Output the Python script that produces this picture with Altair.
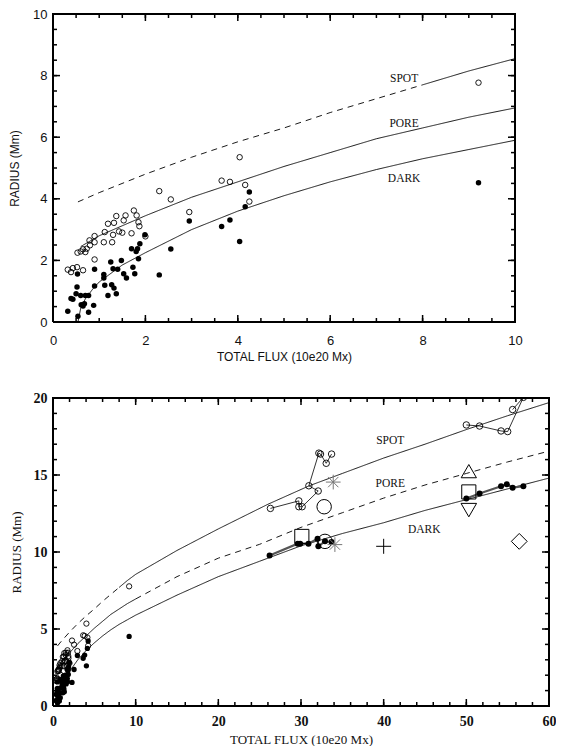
import altair as alt
import pandas as pd

# ---------------- data ----------------
# low-flux sample (shown in both panels); flux in 10e20 Mx, radius in Mm
open_flux = [0.32, 0.39, 0.43, 0.52, 0.65, 0.53, 0.60, 0.65, 0.70, 0.73, 0.80, 0.79,
             0.90, 0.90, 0.90, 1.10, 1.12, 1.19, 1.28, 1.30, 1.32, 1.37, 1.43, 1.50,
             1.53, 1.57, 1.70, 1.75, 1.81, 1.85, 1.87, 2.00, 2.30, 2.55, 2.95, 3.65,
             3.83, 4.04, 4.16, 4.25, 9.21]
open_radius = [1.70, 1.62, 1.75, 1.78, 1.68, 2.25, 2.29, 2.36, 2.27, 2.38, 2.49, 2.65,
               2.59, 2.79, 2.03, 2.59, 2.92, 3.19, 2.59, 2.83, 3.22, 3.44, 2.94, 2.90,
               3.30, 3.46, 2.88, 3.62, 3.46, 3.24, 3.11, 2.78, 4.25, 3.98, 3.57, 4.59,
               4.55, 5.35, 4.45, 3.91, 7.77]
dark_flux = [0.32, 0.39, 0.43, 0.54, 0.50, 0.52, 0.53, 0.60, 0.61, 0.65, 0.68, 0.70,
             0.77, 0.77, 0.88, 0.90, 0.90, 1.10, 1.10, 1.12, 1.19, 1.25, 1.27, 1.30,
             1.32, 1.37, 1.40, 1.48, 1.53, 1.59, 1.70, 1.73, 1.77, 1.80, 1.83, 1.85,
             1.88, 1.99, 2.30, 2.55, 2.95, 3.65, 3.83, 4.04, 4.16, 4.25, 9.21]
dark_radius = [0.35, 0.76, 0.74, 0.19, 0.92, 1.14, 1.56, 0.86, 0.56, 0.52, 0.59, 0.86,
               0.86, 0.32, 0.54, 1.71, 1.17, 1.54, 1.43, 1.19, 0.86, 1.95, 1.21, 1.73,
               1.10, 0.92, 1.71, 2.00, 1.57, 1.43, 2.38, 1.78, 1.57, 2.29, 2.38, 2.05,
               2.54, 2.83, 1.53, 2.37, 3.28, 3.10, 3.31, 2.61, 3.74, 4.22, 4.52]

# high-flux groups (bottom panel), joined in order
spotA_flux = [26.3, 29.74, 29.74, 30.14, 32.08, 30.95, 32.16, 32.36, 33.05, 33.7]
spotA_radius = [12.83, 13.32, 12.94, 12.94, 13.96, 14.3, 16.42, 16.36, 15.76, 16.36]
spotB_flux = [50.0, 51.6, 54.2, 55.0, 56.9, 55.6]
spotB_radius = [18.25, 18.18, 17.86, 17.82, 20.04, 19.25]
darkC_flux = [26.2, 29.6, 29.9, 30.9, 32.0, 32.1, 32.9, 33.7]
darkC_radius = [9.77, 10.54, 10.54, 10.54, 10.86, 10.37, 10.69, 10.65]
darkD_flux = [50.0, 51.6, 54.2, 54.9, 55.6, 56.9]
darkD_radius = [13.48, 13.8, 14.27, 14.4, 14.18, 14.27]

# other published objects (bottom panel)
sym_flux = [30.1, 32.8, 32.9, 33.9, 34.1, 40.0, 50.3, 50.3, 50.3, 56.4]
sym_radius = [11.01, 12.94, 10.69, 14.54, 10.48, 10.37, 15.25, 13.9, 12.72, 10.69]
sym_kind = ["square", "circle", "circle", "asterisk", "asterisk", "plus",
            "tri-up", "square", "tri-down", "diamond"]

# model curves
spot_curve_flux = [0.54, 1, 2, 3, 4, 5, 6, 7, 8, 9, 10, 15, 20, 26, 31, 35, 40, 45, 50, 55, 60]
spot_curve_radius = [3.9, 4.2, 4.8, 5.35, 5.85, 6.3, 6.8, 7.25, 7.7, 8.15, 8.55, 10.1,
                     11.5, 13.1, 14.3, 15.1, 16.1, 17.0, 17.95, 18.85, 19.7]
pore_curve_flux = [0.6, 1, 2, 3, 4, 5, 6, 7, 8, 9, 10, 15, 20, 25, 30, 35, 40, 45, 50, 55, 60]
pore_curve_radius = [2.45, 2.8, 3.45, 4.05, 4.55, 5.05, 5.5, 5.95, 6.3, 6.65, 6.95, 8.4,
                     9.6, 10.5, 11.6, 12.55, 13.5, 14.35, 15.1, 15.85, 16.55]
dark_curve_flux = [0.54, 0.6, 0.7, 0.85, 1, 1.5, 2, 3, 4, 5, 6, 7, 8, 9, 10, 15, 20, 25,
                   30, 35, 40, 45, 50, 55, 60]
dark_curve_radius = [0.0, 0.45, 0.75, 1.05, 1.3, 1.85, 2.25, 3.0, 3.6, 4.1, 4.55, 4.95,
                     5.3, 5.6, 5.9, 7.2, 8.4, 9.4, 10.4, 11.2, 11.9, 12.7, 13.4, 14.1, 14.8]
spot_dash_until = 8.0     # SPOT curve dashed below this flux
pore_dash_from = 10.0     # PORE curve dashed above this flux

curve_names = ["SPOT", "PORE", "DARK"]
top_label_flux = [7.6, 7.6, 7.6]
top_label_radius = [7.9, 6.42, 4.65]
bot_label_flux = [40.8, 40.8, 44.9]
bot_label_radius = [17.2, 14.4, 11.45]

# ---------------- tables ----------------
open_df = pd.DataFrame({"flux": open_flux, "radius": open_radius})
dark_df = pd.DataFrame({"flux": dark_flux, "radius": dark_radius})


def curve_rows():
    rows = []
    for f, r in zip(spot_curve_flux, spot_curve_radius):
        if f <= spot_dash_until:
            rows.append(("SPOT-a", "dashed", f, r))
        if f >= spot_dash_until:
            rows.append(("SPOT-b", "solid", f, r))
    for f, r in zip(pore_curve_flux, pore_curve_radius):
        if f <= pore_dash_from:
            rows.append(("PORE-a", "solid", f, r))
        if f >= pore_dash_from:
            rows.append(("PORE-b", "dashed", f, r))
    for f, r in zip(dark_curve_flux, dark_curve_radius):
        rows.append(("DARK", "solid", f, r))
    return pd.DataFrame(rows, columns=["seg", "style", "flux", "radius"])


curve_df = curve_rows()

groups_open = pd.concat([
    pd.DataFrame({"flux": spotA_flux, "radius": spotA_radius, "grp": "A", "ord": range(len(spotA_flux))}),
    pd.DataFrame({"flux": spotB_flux, "radius": spotB_radius, "grp": "B", "ord": range(len(spotB_flux))}),
])
groups_dark = pd.concat([
    pd.DataFrame({"flux": darkC_flux, "radius": darkC_radius, "grp": "C", "ord": range(len(darkC_flux))}),
    pd.DataFrame({"flux": darkD_flux, "radius": darkD_radius, "grp": "D", "ord": range(len(darkD_flux))}),
])
sym_df = pd.DataFrame({"flux": sym_flux, "radius": sym_radius, "kind": sym_kind})

ASTER = "M-1,0L1,0M0,-1L0,1M-0.7,-0.7L0.7,0.7M-0.7,0.7L0.7,-0.7"
PLUS = "M-1,0L1,0M0,-1L0,1"
kind_dom = ["square", "circle", "asterisk", "plus", "tri-up", "tri-down", "diamond"]
kind_shape = ["square", "circle", ASTER, PLUS, "triangle-up", "triangle-down", "diamond"]
kind_size = [200, 250, 220, 170, 240, 240, 150]
kind_color = ["black", "black", "#777777", "black", "black", "black", "black"]

MAJ_LEN = 7   # px, inward major ticks
MIN_LEN = 4   # px, inward minor ticks


def make_panel(xdom, ydom, W, H, xmaj, xmin_, ymaj, ymin_, font, lsize, lweight,
               tsize, labels_flux, labels_radius, extra, lab_pad_y, title_pad_y,
               lab_pad_x, title_pad_x, pt_size):
    xs = alt.Scale(domain=xdom, nice=False, zero=False)
    ys = alt.Scale(domain=ydom, nice=False, zero=False)
    xaxis = alt.Axis(values=xmaj, ticks=False, domain=False, grid=False,
                     labelFont=font, labelFontSize=lsize, labelFontWeight=lweight,
                     labelColor="#111", labelPadding=lab_pad_x, labelFlush=False,
                     title="TOTAL FLUX (10e20 Mx)", titleFont=font, titleFontSize=tsize,
                     titleFontWeight="normal", titleColor="#111", titlePadding=title_pad_x)
    yaxis = alt.Axis(values=ymaj, ticks=False, domain=False, grid=False,
                     labelFont=font, labelFontSize=lsize, labelFontWeight=lweight,
                     labelColor="#111", labelPadding=lab_pad_y, labelFlush=False,
                     title="RADIUS (Mm)", titleFont=font, titleFontSize=tsize,
                     titleFontWeight="normal", titleColor="#111", titlePadding=title_pad_y)

    def X(field="flux"):
        return alt.X(f"{field}:Q", scale=xs, axis=xaxis)

    def Y(field="radius"):
        return alt.Y(f"{field}:Q", scale=ys, axis=yaxis)

    # pixel -> data-unit conversion for tick lengths
    ux = (xdom[1] - xdom[0]) / W
    uy = (ydom[1] - ydom[0]) / H

    # frame (closed polyline through the four domain corners)
    frame_rows = []
    corners = [(xdom[0], ydom[0]), (xdom[1], ydom[0]), (xdom[1], ydom[1]),
               (xdom[0], ydom[1]), (xdom[0], ydom[0])]
    for k, (cx, cy) in enumerate(corners):
        frame_rows.append(("frame", k, cx, cy))
    frame_df = pd.DataFrame(frame_rows, columns=["sid", "k", "px", "py"])

    # inward ticks on all four sides, each a two-point segment
    tick_rows = []
    n = 0
    for vals, ln in ((xmaj, MAJ_LEN), (xmin_, MIN_LEN)):
        for v in vals:
            tick_rows += [(f"t{n}", 0, v, ydom[0]), (f"t{n}", 1, v, ydom[0] + ln * uy)]
            n += 1
            tick_rows += [(f"t{n}", 0, v, ydom[1]), (f"t{n}", 1, v, ydom[1] - ln * uy)]
            n += 1
    for vals, ln in ((ymaj, MAJ_LEN), (ymin_, MIN_LEN)):
        for v in vals:
            tick_rows += [(f"t{n}", 0, xdom[0], v), (f"t{n}", 1, xdom[0] + ln * ux, v)]
            n += 1
            tick_rows += [(f"t{n}", 0, xdom[1], v), (f"t{n}", 1, xdom[1] - ln * ux, v)]
            n += 1
    tick_df = pd.DataFrame(tick_rows, columns=["sid", "k", "px", "py"])

    layers = []
    layers.append(alt.Chart(tick_df).mark_line(color="black", strokeWidth=1.5).encode(
        x=X("px"), y=Y("py"), detail="sid:N", order="k:Q"))
    layers.append(alt.Chart(frame_df).mark_line(color="black", strokeWidth=2,
                                                strokeJoin="miter").encode(
        x=X("px"), y=Y("py"), detail="sid:N", order="k:Q"))

    # model curves
    layers.append(alt.Chart(curve_df).mark_line(color="black", strokeWidth=0.9, clip=True).encode(
        x=X(), y=Y(), detail="seg:N", order="flux:Q",
        strokeDash=alt.StrokeDash("style:N", scale=alt.Scale(domain=["solid", "dashed"],
                                                             range=[[1, 0], [6, 5]]), legend=None)))

    if extra:
        layers.append(alt.Chart(groups_open).mark_line(color="black", strokeWidth=0.8).encode(
            x=X(), y=Y(), detail="grp:N", order="ord:Q"))
        layers.append(alt.Chart(groups_dark).mark_line(color="#555", strokeWidth=2.2).encode(
            x=X(), y=Y(), detail="grp:N", order="ord:Q"))
        layers.append(alt.Chart(groups_open).mark_point(shape="circle", filled=False, color="black",
                                                         size=42, strokeWidth=0.9, opacity=1,
                                                         clip=True).encode(x=X(), y=Y()))
        layers.append(alt.Chart(groups_dark).mark_circle(color="black", size=36, opacity=1).encode(
            x=X(), y=Y()))
        layers.append(alt.Chart(sym_df).mark_point(filled=False, strokeWidth=1, opacity=1).encode(
            x=X(), y=Y(),
            shape=alt.Shape("kind:N", scale=alt.Scale(domain=kind_dom, range=kind_shape), legend=None),
            size=alt.Size("kind:N", scale=alt.Scale(domain=kind_dom, range=kind_size), legend=None),
            color=alt.Color("kind:N", scale=alt.Scale(domain=kind_dom, range=kind_color), legend=None)))

    layers.append(alt.Chart(open_df).mark_point(shape="circle", filled=False, color="black",
                                                size=pt_size, strokeWidth=0.9, opacity=1).encode(
        x=X(), y=Y()))
    layers.append(alt.Chart(dark_df).mark_circle(color="black", size=pt_size, opacity=1).encode(
        x=X(), y=Y()))

    lab_df = pd.DataFrame({"flux": labels_flux, "radius": labels_radius, "name": curve_names})
    layers.append(alt.Chart(lab_df).mark_text(font="Liberation Serif", fontSize=11.5,
                                               color="#111", align="center",
                                               baseline="middle").encode(
        x=X(), y=Y(), text="name:N"))

    return alt.layer(*layers).properties(width=W, height=H)


top = make_panel(
    xdom=[0, 10], ydom=[0, 10], W=462, H=308,
    xmaj=[0, 2, 4, 6, 8, 10], xmin_=[i * 0.5 for i in range(1, 20)],
    ymaj=[0, 2, 4, 6, 8, 10], ymin_=[i * 0.5 for i in range(1, 20)],
    font="Liberation Sans", lsize=13, lweight="normal", tsize=12,
    labels_flux=top_label_flux, labels_radius=top_label_radius, extra=False,
    lab_pad_y=6, title_pad_y=11, lab_pad_x=12, title_pad_x=4, pt_size=30)

bottom = make_panel(
    xdom=[0, 60], ydom=[0, 20], W=496, H=308,
    xmaj=[0, 10, 20, 30, 40, 50, 60], xmin_=[i * 2 for i in range(1, 30)],
    ymaj=[0, 5, 10, 15, 20], ymin_=[i for i in range(1, 20)],
    font="Liberation Serif", lsize=14, lweight="bold", tsize=13,
    labels_flux=bot_label_flux, labels_radius=bot_label_radius, extra=True,
    lab_pad_y=6, title_pad_y=10, lab_pad_x=8, title_pad_x=5, pt_size=28)

chart = alt.vconcat(top, bottom, spacing=29).properties(
    padding={"left": 0, "top": 0, "right": 0, "bottom": 0}
).configure_view(stroke=None)

chart.save("out.html", embed_options={"renderer": "svg", "actions": False})
